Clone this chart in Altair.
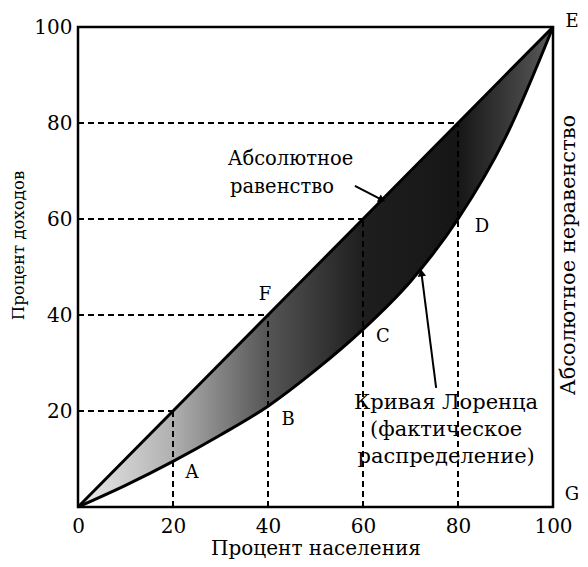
import math
import altair as alt
import pandas as pd

# ---- data ----
X_PCT = [0, 10, 20, 30, 40, 50, 60, 70, 80, 90, 100]
LORENZ = [0, 4.5, 9.5, 15, 21, 28.5, 37, 47, 60, 77, 100]
EQUALITY = [0, 10, 20, 30, 40, 50, 60, 70, 80, 90, 100]
GUIDES = [20, 40, 60, 80]
TICKS = [0, 20, 40, 60, 80, 100]

PT_NAMES = ["A", "B", "C", "D", "F", "E", "G"]
PT_X = [20, 40, 60, 80, 40, 100, 100]
PT_Y = [9.5, 21, 37, 60, 40, 100, 0]
PT_DX = [19, 20, 20, 24, -3, 19, 19]
PT_DY = [12, 14, 8, 8, -20, -5, -12]

# arrows: tail (x, y) -> tip (x, y) in data units
ARROW_X = [58.3, 75.4]
ARROW_Y = [66.9, 24.8]
ARROW_X2 = [64.0, 72.3]
ARROW_Y2 = [64.0, 48.8]

EQ_TEXT = ["Абсолютное", "равенство"]
LOR_TEXT = ["Кривая Лоренца", "(фактическое", "распределение)"]

FONT = "DejaVu Serif"
W, H = 475, 480

df = pd.DataFrame({"x": X_PCT, "lorenz": LORENZ, "eq": EQUALITY})

xs = alt.Scale(domain=[0, 100], nice=False, zero=False)
ys = alt.Scale(domain=[0, 100], nice=False, zero=False)

base = alt.Chart(df)

grad = alt.Gradient(
    gradient="linear",
    x1=0, y1=0, x2=1, y2=0,
    stops=[
        alt.GradientStop(color="#ececec", offset=0),
        alt.GradientStop(color="#b0b0b0", offset=0.2),
        alt.GradientStop(color="#555555", offset=0.4),
        alt.GradientStop(color="#1e1e1e", offset=0.6),
        alt.GradientStop(color="#161616", offset=0.8),
        alt.GradientStop(color="#5a5a5a", offset=1),
    ],
)

area = base.mark_area(color=grad, interpolate="monotone").encode(
    x=alt.X("x:Q", scale=xs,
            axis=alt.Axis(values=TICKS, title="Процент населения", ticks=False,
                          domain=False, grid=False, labelPadding=9,
                          labelFontSize=20, labelFont=FONT, labelColor="black",
                          labelOverlap=False, labelFlush=False,
                          titleFont=FONT, titleFontSize=20, titleFontWeight="normal",
                          titleColor="black", titlePadding=2)),
    y=alt.Y("eq:Q", scale=ys,
            axis=alt.Axis(values=TICKS[1:], title="Процент доходов", ticks=False,
                          domain=False, grid=False, labelPadding=6,
                          labelFontSize=20, labelFont=FONT, labelColor="black",
                          labelBaseline="middle",
                          titleFont=FONT, titleFontSize=16.5, titleFontWeight="normal",
                          titleColor="black", titleX=-52, titleY=218)),
    y2="lorenz:Q",
)

eq_line = base.mark_line(color="black", strokeWidth=3).encode(
    x=alt.X("x:Q", scale=xs), y=alt.Y("eq:Q", scale=ys))
lor_line = base.mark_line(color="black", strokeWidth=3, interpolate="monotone").encode(
    x=alt.X("x:Q", scale=xs), y=alt.Y("lorenz:Q", scale=ys))

gdf = pd.DataFrame({"g": GUIDES, "zero": [0] * len(GUIDES)})
hdash = alt.Chart(gdf).mark_rule(color="black", strokeWidth=2, strokeDash=[6, 4]).encode(
    x=alt.X("zero:Q", scale=xs), x2="g:Q", y=alt.Y("g:Q", scale=ys))
vdash = alt.Chart(gdf).mark_rule(color="black", strokeWidth=2, strokeDash=[6, 4]).encode(
    x=alt.X("g:Q", scale=xs), y=alt.Y("zero:Q", scale=ys), y2="g:Q")

pdf = pd.DataFrame({"n": PT_NAMES, "x": PT_X, "y": PT_Y, "dx": PT_DX, "dy": PT_DY})
pt_layers = []
for i, row in pdf.iterrows():
    pt_layers.append(
        alt.Chart(pdf.iloc[[i]]).mark_text(
            font=FONT, fontSize=18, color="black", dx=int(row.dx), dy=int(row.dy),
            align="center", baseline="middle"
        ).encode(x=alt.X("x:Q", scale=xs), y=alt.Y("y:Q", scale=ys), text="n:N")
    )

ann1 = alt.Chart(pd.DataFrame({"x": [31.5, 32.0], "y": [72.5, 66.7],
                               "t": EQ_TEXT})).mark_text(
    font=FONT, fontSize=19.5, color="black", align="left", baseline="middle"
).encode(x=alt.X("x:Q", scale=xs), y=alt.Y("y:Q", scale=ys), text="t:N")
ann2 = alt.Chart(pd.DataFrame({"x": [77.5, 77.5, 77.5], "y": [21.7, 16.1, 10.5],
                               "t": LOR_TEXT})).mark_text(
    font=FONT, fontSize=21, color="black", align="center", baseline="middle"
).encode(x=alt.X("x:Q", scale=xs), y=alt.Y("y:Q", scale=ys), text="t:N")

right_txt = alt.Chart(pd.DataFrame({"x": [100], "y": [52.5], "t": ["Абсолютное неравенство"]})).mark_text(
    font=FONT, fontSize=21, color="black", angle=270, dy=16, align="center", baseline="middle"
).encode(x=alt.X("x:Q", scale=xs), y=alt.Y("y:Q", scale=ys), text="t:N")

# arrows
adf = pd.DataFrame({"x": ARROW_X, "y": ARROW_Y, "x2": ARROW_X2, "y2": ARROW_Y2})
sx, sy = W / 100.0, H / 100.0
adf["ang"] = [
    (math.degrees(math.atan2((x2 - x) * sx, (y2 - y) * sy)) + 360) % 360
    for x, y, x2, y2 in zip(adf.x, adf.y, adf.x2, adf.y2)
]
arrow_lines = alt.Chart(adf).mark_rule(color="black", strokeWidth=2).encode(
    x=alt.X("x:Q", scale=xs), y=alt.Y("y:Q", scale=ys), x2="x2:Q", y2="y2:Q")
arrow_heads = alt.Chart(adf).mark_point(shape="triangle-up", filled=True, color="black",
                                        size=70, opacity=1).encode(
    x=alt.X("x2:Q", scale=xs), y=alt.Y("y2:Q", scale=ys),
    angle=alt.Angle("ang:Q", scale=None))

chart = alt.layer(
    area, hdash, vdash, eq_line, lor_line, arrow_lines, arrow_heads,
    ann1, ann2, right_txt, *pt_layers
).properties(
    width=W, height=H,
    autosize=alt.AutoSizeParams(type="none"),
    padding={"left": 70, "top": 19, "right": 27, "bottom": 52},
    background="white",
).configure_view(stroke="black", strokeWidth=2.5)

chart.save("out.html", embed_options={"renderer": "svg", "actions": False})
